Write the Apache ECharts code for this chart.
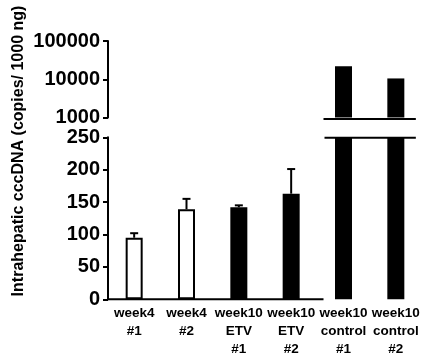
<!DOCTYPE html>
<html><head><meta charset="utf-8">
<script src="https://cdn.jsdelivr.net/npm/echarts@6/dist/echarts.min.js"></script>
<style>html,body{margin:0;padding:0;background:#fff}#c{width:424px;height:356px}</style>
</head><body><div id="c"></div>
<script>
// ---- data ----
const categories = ['week4\n#1', 'week4\n#2', 'week10\nETV\n#1', 'week10\nETV\n#2', 'week10\ncontrol\n#1', 'week10\ncontrol\n#2'];
const groups = ['week4', 'week4', 'ETV', 'ETV', 'control', 'control'];
const means = [95, 139, 142, 163, 22000, 10500];
const errors = [7, 16, 3, 38, 0, 0];
const lowerTicks = [0, 50, 100, 150, 200, 250];
const upperTicks = [1000, 10000, 100000];
const yTitle = 'Intrahepatic cccDNA (copies/ 1000 ng)';

// ---- styles ----
const groupFill = { week4: '#ffffff', ETV: '#000000', control: '#000000' };
const FONT = "'Liberation Sans', Arial, sans-serif";
const L = 108, W = 314;
const topGrid = { top: 41, height: 76.5 };
const botGrid = { top: 137.3, height: 162 };

const chart = echarts.init(document.getElementById('c'), null, { renderer: 'canvas' });

const lowerMin = lowerTicks[0], lowerMax = lowerTicks[lowerTicks.length - 1];
const lowerStep = lowerTicks[1] - lowerTicks[0];
const upperMin = upperTicks[0], upperMax = upperTicks[upperTicks.length - 1];

const barItems = means.map((v, i) => ({
  value: v,
  itemStyle: { color: groupFill[groups[i]], borderColor: '#000', borderWidth: groupFill[groups[i]] === '#ffffff' ? 2 : 0 }
}));
const upperItems = means.map((v, i) => v > upperMin ? {
  value: v, itemStyle: { color: groupFill[groups[i]] }
} : '-');
const errData = means.map((v, i) => errors[i] > 0 ? [i, v, v + errors[i]] : null).filter(d => d);

const axisLineStyle = { color: '#000', width: 2 };
const tickLabel = { color: '#000', fontFamily: FONT, fontWeight: 'bold', fontSize: 20, margin: 8 };

chart.setOption({
  animation: false,
  grid: [
    { left: L, width: W, top: topGrid.top, height: topGrid.height, containLabel: false, outerBoundsMode: 'none' },
    { left: L, width: W, top: botGrid.top, height: botGrid.height, containLabel: false, outerBoundsMode: 'none' }
  ],
  xAxis: [
    { type: 'category', gridIndex: 0, data: categories, show: false },
    { type: 'category', gridIndex: 1, data: categories,
      axisLine: { show: false }, axisTick: { show: false },
      axisLabel: { interval: 0, color: '#000', fontFamily: FONT, fontWeight: 'bold', fontSize: 13.5, lineHeight: 18, margin: 5 } }
  ],
  yAxis: [
    { type: 'log', gridIndex: 0, logBase: 10, min: upperMin, max: upperMax,
      axisLine: { show: true, lineStyle: axisLineStyle },
      axisTick: { show: true, length: 5, lineStyle: axisLineStyle },
      splitLine: { show: false },
      axisLabel: Object.assign({ formatter: v => String(Math.round(v)) }, tickLabel) },
    { type: 'value', gridIndex: 1, min: lowerMin, max: lowerMax, interval: lowerStep,
      axisLine: { show: true, lineStyle: axisLineStyle },
      axisTick: { show: true, length: 5, lineStyle: axisLineStyle },
      splitLine: { show: false },
      axisLabel: Object.assign({ formatter: v => String(v) }, tickLabel) }
  ],
  series: [
    { type: 'bar', xAxisIndex: 0, yAxisIndex: 0, data: upperItems, barWidth: 17 },
    { type: 'bar', xAxisIndex: 1, yAxisIndex: 1, data: barItems, barWidth: 17, clip: true },
    { type: 'custom', xAxisIndex: 1, yAxisIndex: 1, data: errData, z: 5,
      renderItem: function (params, api) {
        const p0 = api.coord([api.value(0), api.value(1)]);
        const p1 = api.coord([api.value(0), api.value(2)]);
        const h = 4;
        return { type: 'group', children: [
          { type: 'line', shape: { x1: p0[0], y1: p0[1], x2: p1[0], y2: p1[1] }, style: { stroke: '#000', lineWidth: 2 } },
          { type: 'line', shape: { x1: p1[0] - h, y1: p1[1], x2: p1[0] + h, y2: p1[1] }, style: { stroke: '#000', lineWidth: 2 } }
        ] };
      }
    }
  ]
});

// decorations derived from the axes
const c4 = chart.convertToPixel({ xAxisIndex: 1 }, 4);
const c5 = chart.convertToPixel({ xAxisIndex: 1 }, 5);
const y0 = chart.convertToPixel({ yAxisIndex: 1 }, lowerMin);
const yTopBottom = chart.convertToPixel({ yAxisIndex: 0 }, upperMin);
const yBotTop = chart.convertToPixel({ yAxisIndex: 1 }, lowerMax);
const breakL = c4 - 20, breakR = c5 + 20;
chart.setOption({
  graphic: [
    { type: 'line', shape: { x1: L - 1, y1: y0, x2: breakL, y2: y0 }, style: { stroke: '#000', lineWidth: 2 }, z: 10 },
    { type: 'line', shape: { x1: breakL, y1: yTopBottom + 1.5, x2: breakR, y2: yTopBottom + 1.5 }, style: { stroke: '#000', lineWidth: 2 }, z: 10 },
    { type: 'line', shape: { x1: breakL + 1, y1: yBotTop + 0.5, x2: breakR, y2: yBotTop + 0.5 }, style: { stroke: '#000', lineWidth: 2 }, z: 10 },
    { type: 'text', x: 19, y: 151, rotation: Math.PI / 2,
      style: { text: yTitle, fill: '#000', font: 'bold 16px ' + FONT, textAlign: 'center', textVerticalAlign: 'middle' } }
  ]
});
</script>
</body></html>
